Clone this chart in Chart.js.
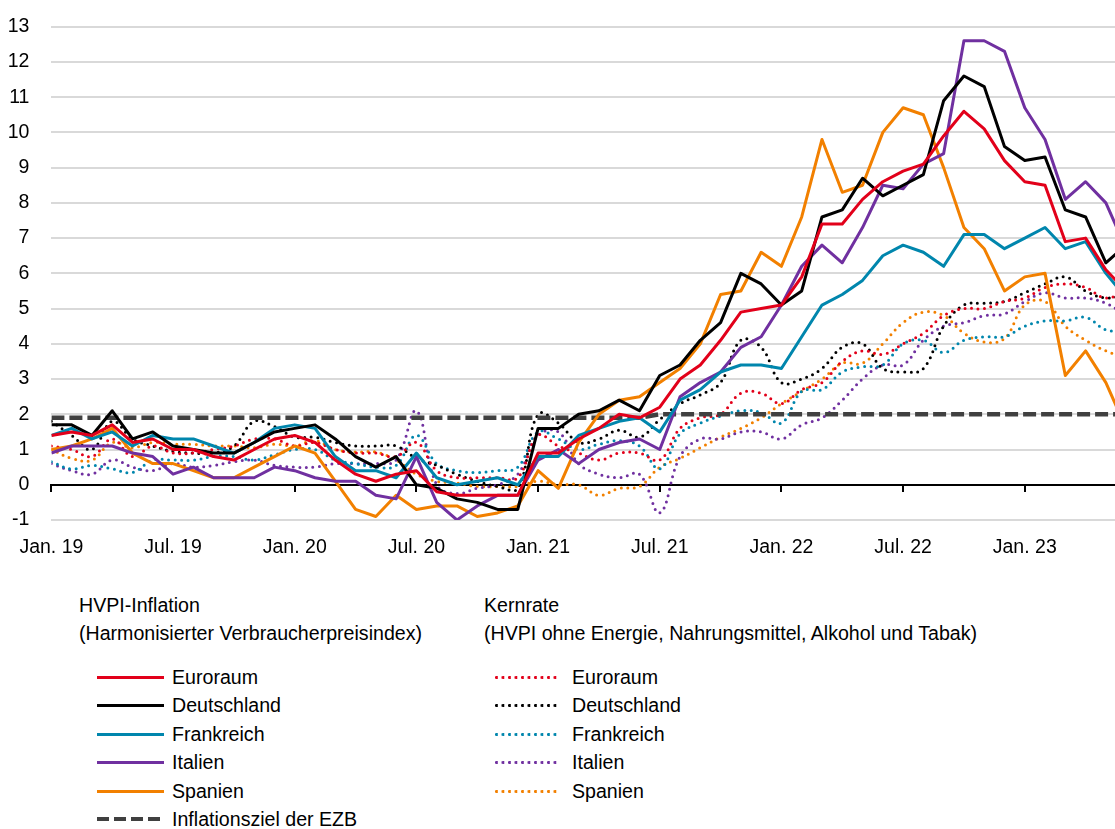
<!DOCTYPE html>
<html lang="de">
<head>
<meta charset="utf-8">
<title>HVPI-Inflation und Kernrate</title>
<script src="https://cdn.jsdelivr.net/npm/chart.js@4.4.1/dist/chart.umd.min.js"></script>
<style>
  body { margin: 0; background: #fff; font-family: "Liberation Sans", Arial, sans-serif; color: #000; }
  #wrap { position: relative; width: 1115px; height: 829px; overflow: hidden; }
  #box { position: absolute; left: 0; top: 0; width: 1115px; height: 580px; }
  .lg { position: absolute; font-size: 19.6px; line-height: 22px; white-space: nowrap; }
  .smp { position: absolute; }
</style>
</head>
<body>
<div id="wrap">
  <div id="box"><canvas id="chart"></canvas></div>
  <div id="legend"></div>
</div>
<script>
// monthly values Jan. 2019 - Jun. 2023, % ggü. Vorjahr
const tickLabels = ["Jan. 19", "Jul. 19", "Jan. 20", "Jul. 20", "Jan. 21", "Jul. 21", "Jan. 22", "Jul. 22", "Jan. 23"];
const countries = ["Euroraum", "Deutschland", "Frankreich", "Italien", "Spanien"];
const colors = ["#e2001a", "#000000", "#0086ad", "#7030a0", "#f28000"];

const hvpiEuroraum = [1.4,1.5,1.4,1.7,1.2,1.3,1.0,1.0,0.8,0.7,1.0,1.3, 1.4,1.2,0.7,0.3,0.1,0.3,0.4,-0.2,-0.3,-0.3,-0.3,-0.3,
  0.9,0.9,1.3,1.6,2.0,1.9,2.2,3.0,3.4,4.1,4.9,5.0, 5.1,5.9,7.4,7.4,8.1,8.6,8.9,9.1,9.9,10.6,10.1,9.2, 8.6,8.5,6.9,7.0,6.1,5.5];
const hvpiDeutschland = [1.7,1.7,1.4,2.1,1.3,1.5,1.1,1.0,0.9,0.9,1.2,1.5, 1.6,1.7,1.3,0.8,0.5,0.8,0.0,-0.1,-0.4,-0.5,-0.7,-0.7,
  1.6,1.6,2.0,2.1,2.4,2.1,3.1,3.4,4.1,4.6,6.0,5.7, 5.1,5.5,7.6,7.8,8.7,8.2,8.5,8.8,10.9,11.6,11.3,9.6, 9.2,9.3,7.8,7.6,6.3,6.8];
const hvpiFrankreich = [1.4,1.6,1.3,1.5,1.1,1.4,1.3,1.3,1.1,0.9,1.2,1.6, 1.7,1.6,0.8,0.4,0.4,0.2,0.9,0.2,0.0,0.1,0.2,0.0,
  0.8,0.8,1.4,1.6,1.8,1.9,1.5,2.4,2.7,3.2,3.4,3.4, 3.3,4.2,5.1,5.4,5.8,6.5,6.8,6.6,6.2,7.1,7.1,6.7, 7.0,7.3,6.7,6.9,6.0,5.3];
const hvpiItalien = [0.9,1.1,1.1,1.1,0.9,0.8,0.3,0.5,0.2,0.2,0.2,0.5, 0.4,0.2,0.1,0.1,-0.3,-0.4,0.8,-0.5,-1.0,-0.6,-0.3,-0.3,
  0.7,1.0,0.6,1.0,1.2,1.3,1.0,2.5,2.9,3.2,3.9,4.2, 5.1,6.2,6.8,6.3,7.3,8.5,8.4,9.1,9.4,12.6,12.6,12.3, 10.7,9.8,8.1,8.6,8.0,6.7];
const hvpiSpanien = [1.0,1.1,1.3,1.6,0.9,0.6,0.6,0.4,0.2,0.2,0.5,0.8, 1.1,0.9,0.1,-0.7,-0.9,-0.3,-0.7,-0.6,-0.6,-0.9,-0.8,-0.6,
  0.4,-0.1,1.2,2.0,2.4,2.5,2.9,3.3,4.0,5.4,5.5,6.6, 6.2,7.6,9.8,8.3,8.5,10.0,10.7,10.5,9.0,7.3,6.7,5.5, 5.9,6.0,3.1,3.8,2.9,1.6];

const kernEuroraum = [1.1,1.0,0.8,1.3,0.8,1.1,0.9,0.9,1.0,1.1,1.3,1.3, 1.1,1.2,1.0,0.9,0.9,0.8,1.2,0.4,0.2,0.2,0.2,0.2,
  1.4,1.1,0.9,0.7,0.9,0.9,0.7,1.6,1.9,2.0,2.6,2.6, 2.3,2.7,2.9,3.5,3.8,3.7,4.0,4.3,4.8,5.0,5.0,5.2, 5.3,5.6,5.7,5.6,5.3,5.5];
const kernDeutschland = [1.8,1.4,1.0,1.8,1.3,1.1,0.95,0.9,0.9,1.1,1.8,1.65, 1.35,1.35,1.2,1.1,1.1,1.1,0.75,0.55,0.3,0.1,-0.05,-0.1,
  2.0,1.75,1.2,1.3,1.55,1.35,1.85,2.3,2.55,2.9,4.1,3.9, 2.9,3.0,3.3,3.9,4.0,3.3,3.2,3.3,4.5,5.1,5.15,5.2, 5.45,5.7,5.9,5.5,5.3,5.4];
const kernFrankreich = [0.65,0.45,0.55,0.45,0.35,0.7,0.7,0.7,0.8,0.8,0.7,0.85, 1.0,1.0,0.7,0.6,0.5,0.55,1.4,0.6,0.4,0.35,0.4,0.5,
  1.5,1.3,1.0,1.15,1.25,1.1,0.45,1.45,1.75,1.95,2.1,2.05, 1.75,2.65,2.7,3.2,3.35,3.4,4.0,4.1,3.75,4.1,4.2,4.2, 4.5,4.65,4.65,4.75,4.4,4.35];
const kernItalien = [0.6,0.4,0.3,0.7,0.5,0.4,0.6,0.5,0.55,0.65,0.7,0.55, 0.5,0.5,0.6,0.6,0.6,0.7,2.1,0.0,-0.25,-0.1,0.0,0.3,
  1.4,1.5,0.6,0.3,0.2,0.3,-0.8,0.8,1.3,1.3,1.5,1.5, 1.3,1.7,1.9,2.4,3.0,3.4,3.4,4.1,4.5,4.6,4.8,4.85, 5.2,5.45,5.3,5.3,5.15,4.8];
const kernSpanien = [1.0,0.75,0.7,1.2,1.05,1.2,1.15,1.15,1.1,1.1,1.05,1.15, 1.1,1.25,1.0,0.93,0.93,0.7,0.3,0.1,0.05,-0.05,-0.05,-0.05,
  0.1,0.0,0.0,-0.3,-0.1,-0.05,0.5,0.75,1.05,1.35,1.6,1.9, 2.3,2.65,3.0,3.45,3.45,4.0,4.6,4.9,4.8,4.3,4.05,4.15, 5.1,5.2,4.5,4.1,3.8,3.6];

// Inflationsziel: "unter, aber nahe 2 %" bis Jun. 2021, danach symmetrisch 2 %
const ezbZiel = [1.9,1.9,1.9,1.9,1.9,1.9,1.9,1.9,1.9,1.9,1.9,1.9, 1.9,1.9,1.9,1.9,1.9,1.9,1.9,1.9,1.9,1.9,1.9,1.9,
  1.9,1.9,1.9,1.9,1.9,1.9,2,2,2,2,2,2, 2,2,2,2,2,2,2,2,2,2,2,2, 2,2,2,2,2,2];

const hvpiSeries = [hvpiEuroraum, hvpiDeutschland, hvpiFrankreich, hvpiItalien, hvpiSpanien];
const kernSeries = [kernEuroraum, kernDeutschland, kernFrankreich, kernItalien, kernSpanien];

const xMax = 52.45;   // picture is cut just after May 2023
const fontFamily = '"Liberation Sans", Arial, sans-serif';

class InflationChart {
    constructor(where) {
        this.where = where;
        this.lineChart();
    }

    lineChart() {
        this.chart = new Chart(this.where, {
            type: "line",
            data: this.lineChartData(),
            options: this.lineChartOptions()
        });
    }

    points(values) {
        return values.map((v, i) => ({ x: i, y: v }));
    }

    lineChartData() {
        let sets = [];
        hvpiSeries.forEach((values, i) => {
            sets.push({
                label: countries[i],
                data: this.points(values),
                borderColor: colors[i],
                borderWidth: 3,
                borderJoinStyle: "round",
                pointRadius: 0,
                tension: 0
            });
        });
        sets.push({
            label: "Inflationsziel der EZB",
            data: this.points(ezbZiel),
            borderColor: "#404040",
            borderWidth: 4.5,
            borderDash: [13, 5],
            pointRadius: 0,
            tension: 0
        });
        kernSeries.forEach((values, i) => {
            sets.push({
                label: countries[i] + " (Kernrate)",
                data: this.points(values),
                borderColor: colors[i],
                borderWidth: 3,
                borderDash: [0, 6.5],
                borderCapStyle: "round",
                pointRadius: 0,
                tension: 0.4
            });
        });
        return { datasets: sets };
    }

    lineChartOptions() {
        const sixMonthTicks = (scale) => {
            scale.ticks = tickLabels.map((t, i) => ({ value: i * 6 }));
        };
        return {
            responsive: true,
            maintainAspectRatio: false,
            animation: false,
            layout: { padding: { top: 26.7, right: 0, bottom: 0, left: 0 } },
            plugins: {
                legend: { display: false },
                tooltip: { enabled: false }
            },
            scales: {
                x: {
                    type: "linear",
                    min: 0,
                    max: xMax,
                    grid: { display: false, drawTicks: false },
                    border: { display: false },
                    afterBuildTicks: sixMonthTicks,
                    afterFit: (s) => { s.height = 60; },
                    ticks: {
                        autoSkip: false,
                        maxRotation: 0,
                        padding: 16,
                        color: "#000",
                        font: { size: 19.5, family: fontFamily },
                        callback: (v) => tickLabels[Math.round(v / 6)]
                    }
                },
                xAxisLine: {
                    type: "linear",
                    min: 0,
                    max: xMax,
                    position: { y: 0 },
                    grid: { drawOnChartArea: false, drawTicks: true, tickLength: 6, color: "#000", lineWidth: 2 },
                    border: { display: true, color: "#000", width: 2 },
                    ticks: { display: false },
                    afterBuildTicks: sixMonthTicks,
                    afterFit: (s) => { s.height = 0; }
                },
                y: {
                    min: -1,
                    max: 13,
                    // tick padding would otherwise push the plot top down
                    afterFit: (s) => { s.width = 51.4; s.paddingTop = 0; s.paddingBottom = 0; },
                    grid: {
                        drawTicks: false,
                        lineWidth: 2,
                        color: (ctx) => ctx.tick.value === 0 ? "#000" : "#d9d9d9"
                    },
                    border: { display: false },
                    ticks: {
                        stepSize: 1,
                        padding: 22,
                        color: "#000",
                        font: { size: 19.5, family: fontFamily }
                    }
                }
            }
        };
    }
}

// legend below the chart, two columns like the original
function buildLegend() {
    const legend = document.getElementById("legend");
    const rowY = [677, 705, 734, 762, 791, 819];

    const addText = (txt, x, yMid) => {
        const d = document.createElement("div");
        d.className = "lg";
        d.textContent = txt;
        d.style.left = x + "px";
        d.style.top = (yMid - 11) + "px";
        legend.appendChild(d);
    };
    const addSample = (x, w, yMid, kind, color) => {
        const d = document.createElement("div");
        d.className = "smp";
        d.style.left = x + "px";
        d.style.width = w + "px";
        if (kind === "solid") {
            d.style.height = "3px";
            d.style.top = (yMid - 1.5) + "px";
            d.style.background = color;
        } else if (kind === "dot") {
            d.style.height = "3px";
            d.style.top = (yMid - 1.5) + "px";
            d.style.backgroundImage = "radial-gradient(circle at 1.5px 1.5px, " + color + " 1.3px, transparent 1.7px)";
            d.style.backgroundSize = "6.5px 3px";
            d.style.backgroundRepeat = "repeat-x";
        } else {
            d.style.height = "4.5px";
            d.style.top = (yMid - 2.25) + "px";
            d.style.backgroundImage = "repeating-linear-gradient(90deg, " + color + " 0 12px, transparent 12px 17px)";
        }
        legend.appendChild(d);
    };

    addText("HVPI-Inflation", 79, 605);
    addText("(Harmonisierter Verbraucherpreisindex)", 79, 633);
    addText("Kernrate", 484, 605);
    addText("(HVPI ohne Energie, Nahrungsmittel, Alkohol und Tabak)", 484, 633);

    countries.forEach((name, i) => {
        addSample(97, 67, rowY[i], "solid", colors[i]);
        addText(name, 172, rowY[i]);
        addSample(495, 64, rowY[i], "dot", colors[i]);
        addText(name, 572, rowY[i]);
    });
    addSample(97, 67, rowY[5], "dash", "#404040");
    addText("Inflationsziel der EZB", 172, rowY[5]);
}

new InflationChart(document.getElementById("chart"));
buildLegend();
</script>
</body>
</html>
